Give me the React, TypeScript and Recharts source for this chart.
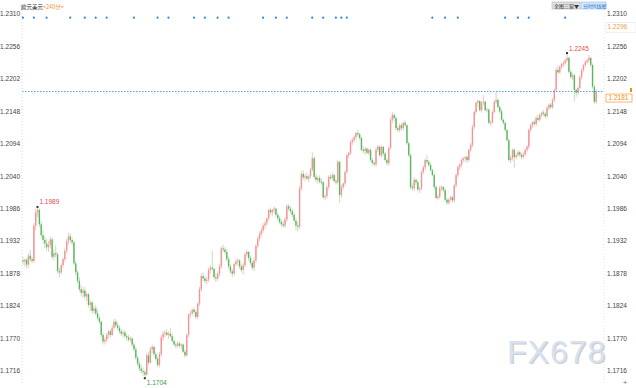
import React from 'react';
import { ComposedChart, Bar, XAxis, YAxis, ReferenceLine, ReferenceDot } from 'recharts';

// EUR/USD 240-minute candles: [open, high, low, close]
const candles: [number, number, number, number][] = [
  [1.1900,1.1906,1.1893,1.1898],[1.1898,1.1903,1.1890,1.1901],[1.1901,1.1904,1.1886,1.1893],[1.1893,1.1912,1.1888,1.1908],
  [1.1908,1.1918,1.1898,1.1902],[1.1902,1.1906,1.1895,1.1899],[1.1899,1.1962,1.1896,1.1958],[1.1958,1.1986,1.1950,1.1980],
  [1.1980,1.1989,1.1972,1.1984],[1.1984,1.1987,1.1955,1.1960],[1.1960,1.1966,1.1938,1.1942],[1.1942,1.1950,1.1928,1.1934],
  [1.1934,1.1940,1.1920,1.1928],[1.1928,1.1936,1.1915,1.1922],[1.1922,1.1932,1.1914,1.1926],[1.1926,1.1940,1.1920,1.1935],
  [1.1935,1.1938,1.1902,1.1906],[1.1906,1.1918,1.1900,1.1912],[1.1912,1.1925,1.1905,1.1910],[1.1910,1.1914,1.1878,1.1882],
  [1.1882,1.1888,1.1872,1.1880],[1.1880,1.1895,1.1876,1.1892],[1.1892,1.1905,1.1888,1.1902],[1.1902,1.1920,1.1898,1.1916],
  [1.1916,1.1936,1.1912,1.1932],[1.1932,1.1946,1.1926,1.1940],[1.1940,1.1944,1.1928,1.1934],[1.1934,1.1938,1.1925,1.1930],
  [1.1930,1.1933,1.1892,1.1895],[1.1895,1.1900,1.1875,1.1880],[1.1880,1.1884,1.1862,1.1866],[1.1866,1.1872,1.1848,1.1852],
  [1.1852,1.1858,1.1840,1.1846],[1.1846,1.1855,1.1838,1.1850],[1.1850,1.1856,1.1836,1.1840],[1.1840,1.1848,1.1832,1.1844],
  [1.1844,1.1846,1.1822,1.1826],[1.1826,1.1834,1.1816,1.1830],[1.1830,1.1832,1.1812,1.1816],[1.1816,1.1824,1.1810,1.1820],
  [1.1820,1.1826,1.1808,1.1812],[1.1812,1.1818,1.1800,1.1804],[1.1804,1.1808,1.1794,1.1798],[1.1798,1.1800,1.1772,1.1776],
  [1.1776,1.1780,1.1760,1.1765],[1.1765,1.1772,1.1760,1.1768],[1.1768,1.1780,1.1764,1.1776],[1.1776,1.1784,1.1770,1.1782],
  [1.1782,1.1786,1.1772,1.1776],[1.1776,1.1792,1.1774,1.1788],[1.1788,1.1803,1.1785,1.1798],[1.1798,1.1802,1.1788,1.1792],
  [1.1792,1.1797,1.1784,1.1788],[1.1788,1.1792,1.1778,1.1782],[1.1782,1.1786,1.1774,1.1778],[1.1778,1.1785,1.1772,1.1780],
  [1.1780,1.1783,1.1770,1.1774],[1.1774,1.1778,1.1766,1.1772],[1.1772,1.1776,1.1765,1.1768],[1.1768,1.1774,1.1764,1.1770],
  [1.1770,1.1772,1.1756,1.1760],[1.1760,1.1764,1.1748,1.1752],[1.1752,1.1756,1.1734,1.1738],[1.1738,1.1742,1.1724,1.1728],
  [1.1728,1.1732,1.1716,1.1720],[1.1720,1.1726,1.1712,1.1716],[1.1716,1.1722,1.1708,1.1714],[1.1714,1.1718,1.1704,1.1710],
  [1.1710,1.1746,1.1708,1.1742],[1.1742,1.1748,1.1726,1.1730],[1.1730,1.1756,1.1728,1.1752],[1.1752,1.1760,1.1746,1.1756],
  [1.1756,1.1758,1.1740,1.1744],[1.1744,1.1748,1.1732,1.1736],[1.1736,1.1740,1.1722,1.1726],[1.1726,1.1748,1.1722,1.1744],
  [1.1744,1.1776,1.1740,1.1772],[1.1772,1.1782,1.1766,1.1778],[1.1778,1.1784,1.1772,1.1780],[1.1780,1.1786,1.1774,1.1776],
  [1.1776,1.1782,1.1770,1.1778],[1.1778,1.1788,1.1772,1.1774],[1.1774,1.1778,1.1764,1.1766],[1.1766,1.1770,1.1758,1.1760],
  [1.1760,1.1764,1.1754,1.1758],[1.1758,1.1766,1.1754,1.1762],[1.1762,1.1765,1.1755,1.1758],[1.1758,1.1762,1.1752,1.1760],
  [1.1760,1.1762,1.1746,1.1748],[1.1748,1.1752,1.1738,1.1742],[1.1742,1.1778,1.1740,1.1776],[1.1776,1.1812,1.1772,1.1810],
  [1.1810,1.1816,1.1804,1.1812],[1.1812,1.1820,1.1808,1.1818],[1.1818,1.1822,1.1810,1.1814],[1.1814,1.1818,1.1802,1.1806],
  [1.1806,1.1830,1.1802,1.1828],[1.1828,1.1856,1.1824,1.1852],[1.1852,1.1878,1.1848,1.1874],[1.1874,1.1880,1.1866,1.1870],
  [1.1870,1.1874,1.1862,1.1866],[1.1866,1.1872,1.1860,1.1868],[1.1868,1.1888,1.1864,1.1884],[1.1884,1.1892,1.1878,1.1888],
  [1.1888,1.1916,1.1882,1.1886],[1.1886,1.1888,1.1868,1.1872],[1.1872,1.1878,1.1864,1.1870],[1.1870,1.1882,1.1866,1.1878],
  [1.1878,1.1894,1.1874,1.1890],[1.1890,1.1924,1.1886,1.1920],[1.1920,1.1926,1.1914,1.1918],[1.1918,1.1922,1.1910,1.1914],
  [1.1914,1.1918,1.1898,1.1902],[1.1902,1.1906,1.1886,1.1890],[1.1890,1.1894,1.1878,1.1882],[1.1882,1.1886,1.1872,1.1878],
  [1.1878,1.1896,1.1874,1.1894],[1.1894,1.1902,1.1890,1.1898],[1.1898,1.1904,1.1892,1.1900],[1.1900,1.1902,1.1886,1.1890],
  [1.1890,1.1894,1.1880,1.1884],[1.1884,1.1896,1.1876,1.1892],[1.1892,1.1914,1.1888,1.1910],[1.1910,1.1918,1.1906,1.1914],
  [1.1914,1.1916,1.1900,1.1904],[1.1904,1.1908,1.1892,1.1896],[1.1896,1.1900,1.1884,1.1888],[1.1888,1.1904,1.1882,1.1900],
  [1.1900,1.1928,1.1896,1.1924],[1.1924,1.1940,1.1920,1.1936],[1.1936,1.1948,1.1932,1.1944],[1.1944,1.1954,1.1940,1.1950],
  [1.1950,1.1962,1.1946,1.1958],[1.1958,1.1966,1.1952,1.1962],[1.1962,1.1972,1.1958,1.1970],[1.1970,1.1986,1.1966,1.1984],
  [1.1984,1.1988,1.1976,1.1980],[1.1980,1.1986,1.1974,1.1984],[1.1984,1.1990,1.1978,1.1986],[1.1986,1.1988,1.1972,1.1976],
  [1.1976,1.1980,1.1966,1.1970],[1.1970,1.1974,1.1960,1.1964],[1.1964,1.1968,1.1956,1.1960],[1.1960,1.1966,1.1954,1.1958],
  [1.1958,1.1972,1.1954,1.1968],[1.1968,1.1994,1.1964,1.1990],[1.1990,1.1994,1.1982,1.1986],[1.1986,1.1990,1.1978,1.1982],
  [1.1982,1.1986,1.1972,1.1976],[1.1976,1.1980,1.1964,1.1966],[1.1966,1.1970,1.1950,1.1958],[1.1958,1.1964,1.1948,1.1956],
  [1.1956,1.2024,1.1952,1.2020],[1.2020,1.2048,1.2016,1.2044],[1.2044,1.2050,1.2034,1.2038],[1.2038,1.2044,1.2032,1.2040],
  [1.2040,1.2046,1.2034,1.2036],[1.2036,1.2042,1.2030,1.2040],[1.2040,1.2054,1.2036,1.2051],[1.2051,1.2080,1.2048,1.2070],
  [1.2070,1.2074,1.2036,1.2039],[1.2039,1.2044,1.2030,1.2034],[1.2034,1.2040,1.2028,1.2037],[1.2037,1.2042,1.2028,1.2031],
  [1.2031,1.2036,1.2026,1.2030],[1.2030,1.2032,1.2002,1.2005],[1.2005,1.2010,1.2000,1.2007],[1.2007,1.2026,1.2003,1.2022],
  [1.2022,1.2042,1.2018,1.2039],[1.2039,1.2044,1.2034,1.2037],[1.2037,1.2046,1.2034,1.2042],[1.2042,1.2045,1.2030,1.2032],
  [1.2032,1.2036,1.2026,1.2030],[1.2030,1.2068,1.2027,1.2064],[1.2064,1.2066,1.1996,1.2009],[1.2009,1.2026,1.2004,1.2022],
  [1.2022,1.2030,1.2018,1.2028],[1.2028,1.2050,1.2024,1.2047],[1.2047,1.2078,1.2044,1.2075],[1.2075,1.2081,1.2070,1.2079],
  [1.2079,1.2100,1.2075,1.2097],[1.2097,1.2104,1.2092,1.2100],[1.2100,1.2108,1.2096,1.2105],[1.2105,1.2114,1.2101,1.2112],
  [1.2112,1.2117,1.2106,1.2110],[1.2110,1.2112,1.2100,1.2104],[1.2104,1.2106,1.2082,1.2084],[1.2084,1.2090,1.2078,1.2082],
  [1.2082,1.2088,1.2076,1.2086],[1.2086,1.2088,1.2076,1.2079],[1.2079,1.2086,1.2075,1.2084],[1.2084,1.2086,1.2064,1.2067],
  [1.2067,1.2071,1.2058,1.2062],[1.2062,1.2066,1.2056,1.2060],[1.2060,1.2088,1.2056,1.2084],[1.2084,1.2092,1.2080,1.2089],
  [1.2089,1.2091,1.2072,1.2075],[1.2075,1.2092,1.2072,1.2089],[1.2089,1.2090,1.2074,1.2078],[1.2078,1.2080,1.2065,1.2067],
  [1.2067,1.2070,1.2058,1.2062],[1.2062,1.2090,1.2058,1.2087],[1.2087,1.2138,1.2084,1.2134],[1.2134,1.2147,1.2128,1.2142],
  [1.2142,1.2145,1.2132,1.2137],[1.2137,1.2140,1.2116,1.2120],[1.2120,1.2124,1.2114,1.2117],[1.2117,1.2128,1.2113,1.2125],
  [1.2125,1.2128,1.2116,1.2120],[1.2120,1.2131,1.2116,1.2129],[1.2129,1.2133,1.2122,1.2125],[1.2125,1.2127,1.2092,1.2095],
  [1.2095,1.2098,1.2072,1.2075],[1.2075,1.2078,1.2018,1.2022],[1.2022,1.2028,1.2016,1.2020],[1.2020,1.2038,1.2016,1.2034],
  [1.2034,1.2037,1.2026,1.2030],[1.2030,1.2033,1.2015,1.2018],[1.2018,1.2022,1.2012,1.2020],[1.2020,1.2050,1.2016,1.2047],
  [1.2047,1.2058,1.2043,1.2055],[1.2055,1.2070,1.2050,1.2067],[1.2067,1.2075,1.2060,1.2064],[1.2064,1.2067,1.2056,1.2059],
  [1.2059,1.2062,1.2048,1.2050],[1.2050,1.2053,1.2040,1.2042],[1.2042,1.2045,1.2018,1.2022],[1.2022,1.2025,1.2002,1.2004],
  [1.2004,1.2010,1.2000,1.2006],[1.2006,1.2024,1.2002,1.2020],[1.2020,1.2025,1.2015,1.2022],[1.2022,1.2024,1.2013,1.2017],
  [1.2017,1.2020,1.1998,1.2001],[1.2001,1.2004,1.1992,1.1996],[1.1996,1.2004,1.1993,1.2001],[1.2001,1.2008,1.1998,1.2005],
  [1.2005,1.2008,1.1996,1.2000],[1.2000,1.2028,1.1996,1.2025],[1.2025,1.2045,1.2021,1.2042],[1.2042,1.2058,1.2038,1.2055],
  [1.2055,1.2062,1.2050,1.2059],[1.2059,1.2070,1.2055,1.2067],[1.2067,1.2072,1.2063,1.2070],[1.2070,1.2074,1.2064,1.2072],
  [1.2072,1.2075,1.2062,1.2067],[1.2067,1.2086,1.2064,1.2084],[1.2084,1.2095,1.2080,1.2092],[1.2092,1.2126,1.2088,1.2122],
  [1.2122,1.2150,1.2118,1.2147],[1.2147,1.2165,1.2143,1.2162],[1.2162,1.2168,1.2156,1.2165],[1.2165,1.2167,1.2148,1.2150],
  [1.2150,1.2165,1.2146,1.2162],[1.2162,1.2175,1.2158,1.2164],[1.2164,1.2166,1.2148,1.2150],[1.2150,1.2154,1.2146,1.2151],
  [1.2151,1.2153,1.2126,1.2129],[1.2129,1.2133,1.2124,1.2130],[1.2130,1.2150,1.2127,1.2147],[1.2147,1.2167,1.2144,1.2164],
  [1.2164,1.2180,1.2160,1.2167],[1.2167,1.2170,1.2152,1.2155],[1.2155,1.2158,1.2145,1.2148],[1.2148,1.2152,1.2132,1.2134],
  [1.2134,1.2136,1.2126,1.2129],[1.2129,1.2131,1.2114,1.2117],[1.2117,1.2119,1.2098,1.2100],[1.2100,1.2103,1.2064,1.2067],
  [1.2067,1.2074,1.2062,1.2070],[1.2070,1.2086,1.2066,1.2084],[1.2084,1.2087,1.2054,1.2072],[1.2072,1.2078,1.2068,1.2075],
  [1.2075,1.2084,1.2072,1.2080],[1.2080,1.2083,1.2072,1.2076],[1.2076,1.2079,1.2068,1.2072],[1.2072,1.2080,1.2069,1.2076],
  [1.2076,1.2086,1.2073,1.2084],[1.2084,1.2092,1.2080,1.2089],[1.2089,1.2120,1.2085,1.2117],[1.2117,1.2128,1.2113,1.2125],
  [1.2125,1.2132,1.2120,1.2130],[1.2130,1.2134,1.2124,1.2127],[1.2127,1.2140,1.2123,1.2137],[1.2137,1.2143,1.2130,1.2134],
  [1.2134,1.2144,1.2131,1.2142],[1.2142,1.2148,1.2138,1.2146],[1.2146,1.2150,1.2140,1.2144],[1.2144,1.2147,1.2136,1.2140],
  [1.2140,1.2156,1.2137,1.2154],[1.2154,1.2161,1.2150,1.2159],[1.2159,1.2162,1.2152,1.2155],[1.2155,1.2170,1.2152,1.2167],
  [1.2167,1.2186,1.2164,1.2184],[1.2184,1.2220,1.2180,1.2217],[1.2217,1.2224,1.2210,1.2213],[1.2213,1.2225,1.2210,1.2222],
  [1.2222,1.2229,1.2218,1.2227],[1.2227,1.2232,1.2222,1.2228],[1.2228,1.2236,1.2225,1.2233],[1.2233,1.2245,1.2230,1.2237],
  [1.2237,1.2239,1.2211,1.2214],[1.2214,1.2217,1.2202,1.2205],[1.2205,1.2212,1.2200,1.2208],[1.2208,1.2210,1.2164,1.2184],
  [1.2184,1.2186,1.2172,1.2179],[1.2179,1.2190,1.2175,1.2187],[1.2187,1.2208,1.2184,1.2205],[1.2205,1.2220,1.2201,1.2217],
  [1.2217,1.2227,1.2213,1.2225],[1.2225,1.2233,1.2221,1.2230],[1.2230,1.2236,1.2226,1.2233],[1.2233,1.2242,1.2229,1.2237],
  [1.2237,1.2239,1.2222,1.2225],[1.2225,1.2228,1.2186,1.2189],[1.2189,1.2192,1.2160,1.2164],[1.2164,1.2185,1.2160,1.2181],
];

// price axis ticks
const priceTicks = [1.1716, 1.1770, 1.1824, 1.1878, 1.1932, 1.1986, 1.2040, 1.2094, 1.2148, 1.2202, 1.2256, 1.2310];
// candle indices carrying news event markers
const eventIdx = [0, 6, 13, 26, 34, 40, 46, 61, 74, 80, 94, 100, 107, 113, 132, 139, 145, 159, 165, 172, 175, 178, 225, 232, 239, 265, 272, 278, 298];
const eventLevel = 1.2304;
// marked extremes
const extremes = [
  { i: 8, price: 1.1989, kind: 'high' },
  { i: 67, price: 1.1704, kind: 'low' },
  { i: 299, price: 1.2245, kind: 'high' },
];
const lastPrice = 1.2181;
const upperPrice = 1.2296;

const data = candles.map((c, i) => ({ t: String(i + 1), open: c[0], high: c[1], low: c[2], close: c[3] }));

const NUM_FONT = 'Liberation Sans, Arial, sans-serif';
const CJK_FONT = '"Noto Sans CJK SC", sans-serif';

const Candle = (props: any) => {
  const { x, y, width, height, payload } = props;
  if (!payload || x == null || y == null) return null;
  const { open, high, low, close } = payload;
  const top = Math.min(y, y + height);
  const h = Math.abs(height);
  const ratio = high > low ? h / (high - low) : 0;
  const cx = x + width / 2;
  const up = close >= open;
  const bTop = top + (high - Math.max(open, close)) * ratio;
  const bBot = top + (high - Math.min(open, close)) * ratio;
  const bh = Math.max(1, bBot - bTop);
  return (
    <g>
      <line x1={cx} x2={cx} y1={top} y2={top + h} stroke={up ? '#f7c4c4' : '#bfe2bf'} strokeWidth={1} />
      <rect x={cx - 0.7} y={bTop} width={1.4} height={bh} fill={up ? '#f09494' : '#5db65d'} />
    </g>
  );
};

const LeftTick = (p: any) => (
  <text x={p.x} y={p.y} dy={2.3} textAnchor="end" fontSize={6.5} fill="#444" fontFamily={NUM_FONT}>
    {Number(p.payload.value).toFixed(4)}
  </text>
);
const RightTick = (p: any) => (
  <text x={p.x} y={p.y} dy={2.3} textAnchor="start" fontSize={6.5} fill="#444" fontFamily={NUM_FONT}>
    {Number(p.payload.value).toFixed(4)}
  </text>
);

const LastLabel = (p: any) => {
  const vb = p.viewBox || {};
  const rx = vb.x + vb.width + 2;
  const ry = vb.y + 2.5;
  return (
    <g>
      <rect x={rx} y={ry} width={26} height={8} fill="#fff" stroke="#f5a54a" strokeWidth={0.8} />
      <text x={rx + 2.5} y={ry + 6.2} fontSize={6.5} fill="#f08a1c" fontFamily={NUM_FONT}>{lastPrice.toFixed(4)}</text>
      <rect x={rx + 24} y={vb.y - 3.5} width={2} height={4} fill="#f08a1c" />
    </g>
  );
};

const UpperLabel = (p: any) => {
  const vb = p.viewBox || {};
  const rx = vb.x + vb.width + 2;
  const ry = vb.y;
  return (
    <g>
      <rect x={rx} y={ry} width={30} height={10} fill="#fff" stroke="#ececec" strokeWidth={0.8} />
      <text x={rx + 1.5} y={ry + 7} fontSize={6.5} fill="#f5a04a" fontFamily={NUM_FONT}>{upperPrice.toFixed(4)}</text>
    </g>
  );
};

const makeExtremeShape = (kind: string, price: number) => (p: any) => {
  const { cx, cy } = p;
  if (cx == null || cy == null) return null;
  const high = kind === 'high';
  return (
    <g>
      <rect x={cx - 1} y={cy - 1} width={2} height={2} fill="#333" />
      <text
        x={cx + 2}
        y={high ? cy - 2.5 : cy + 6.5}
        fontSize={6.5}
        fill={high ? '#e84a4a' : '#3c9a3c'}
        fontFamily={NUM_FONT}
      >
        {price.toFixed(4)}
      </text>
    </g>
  );
};

export default function App() {
  return (
    <div style={{ position: 'absolute', left: 0, top: 0, width: 636, height: 388, background: '#fff' }}>
      <ComposedChart
        width={636}
        height={388}
        data={data}
        margin={{ top: 10, right: 0, bottom: 3, left: 0 }}
        barCategoryGap={0}
        barGap={0}
      >
        <XAxis dataKey="t" hide padding={{ left: 0, right: 7 }} />
        <YAxis
          yAxisId="l"
          orientation="left"
          width={22}
          type="number"
          domain={[1.16927, 1.23167]}
          allowDataOverflow
          ticks={priceTicks}
          interval={0}
          tickLine={false}
          tickSize={0}
          tickMargin={2}
          axisLine={{ stroke: '#dcdcdc', strokeDasharray: '1 2' }}
          tick={<LeftTick />}
        />
        <YAxis
          yAxisId="r"
          orientation="right"
          width={32}
          type="number"
          domain={[1.16927, 1.23167]}
          allowDataOverflow
          ticks={priceTicks}
          interval={0}
          tickLine={false}
          tickSize={0}
          tickMargin={3}
          axisLine={{ stroke: '#e6e6e6', strokeDasharray: '1 2' }}
          tick={<RightTick />}
        />
        <Bar
          yAxisId="l"
          dataKey={(d: any) => [d.low, d.high]}
          shape={<Candle />}
          isAnimationActive={false}
        />
        <ReferenceLine
          yAxisId="l"
          y={lastPrice}
          stroke="#4f9be6"
          strokeDasharray="1.5 1.5"
          strokeWidth={1}
          label={<LastLabel />}
        />
        <ReferenceLine yAxisId="l" y={upperPrice} stroke="none" label={<UpperLabel />} />
        {eventIdx.map((i) => (
          <ReferenceDot
            key={'ev' + i}
            yAxisId="l"
            x={data[i].t}
            y={eventLevel}
            r={1.1}
            fill="#2f86e0"
            stroke="none"
          />
        ))}
        {extremes.map((e) => (
          <ReferenceDot
            key={'ex' + e.i}
            yAxisId="l"
            x={data[e.i].t}
            y={e.price}
            r={1}
            shape={makeExtremeShape(e.kind, e.price)}
          />
        ))}
      </ComposedChart>
      <svg width={636} height={388} style={{ position: 'absolute', left: 0, top: 0, pointerEvents: 'none' }}>
        <text x={21} y={9} fontSize={5.5} fontFamily={CJK_FONT} fill="#222">
          欧元美元<tspan fill="#f0962a">&lt;240分&gt;</tspan>
        </text>
        <rect x={552} y={2} width={28} height={7} fill="#e0e0e0" stroke="#a8a8a8" strokeWidth={0.5} />
        <text x={554} y={7.6} fontSize={5} fontFamily={CJK_FONT} fill="#333">全图三窗▼</text>
        <rect x={581} y={2} width={25} height={7} fill="#d7e9fb" stroke="#7fb0e0" strokeWidth={0.5} />
        <text x={583} y={7.6} fontSize={5} fontFamily={CJK_FONT} fill="#2a7bd0">分时K线图</text>
        <text x={508.2} y={364.2} fontSize={32} letterSpacing={1} fontFamily={NUM_FONT} fill="#bdb6b0" opacity={0.7}>FX678</text>
        <text x={507} y={363} fontSize={32} letterSpacing={1} fontFamily={NUM_FONT} fill="#d5e2f1">FX678</text>
        <text x={625} y={385} fontSize={8} textAnchor="middle" fontFamily={NUM_FONT} fill="#777">+</text>
      </svg>
    </div>
  );
}
